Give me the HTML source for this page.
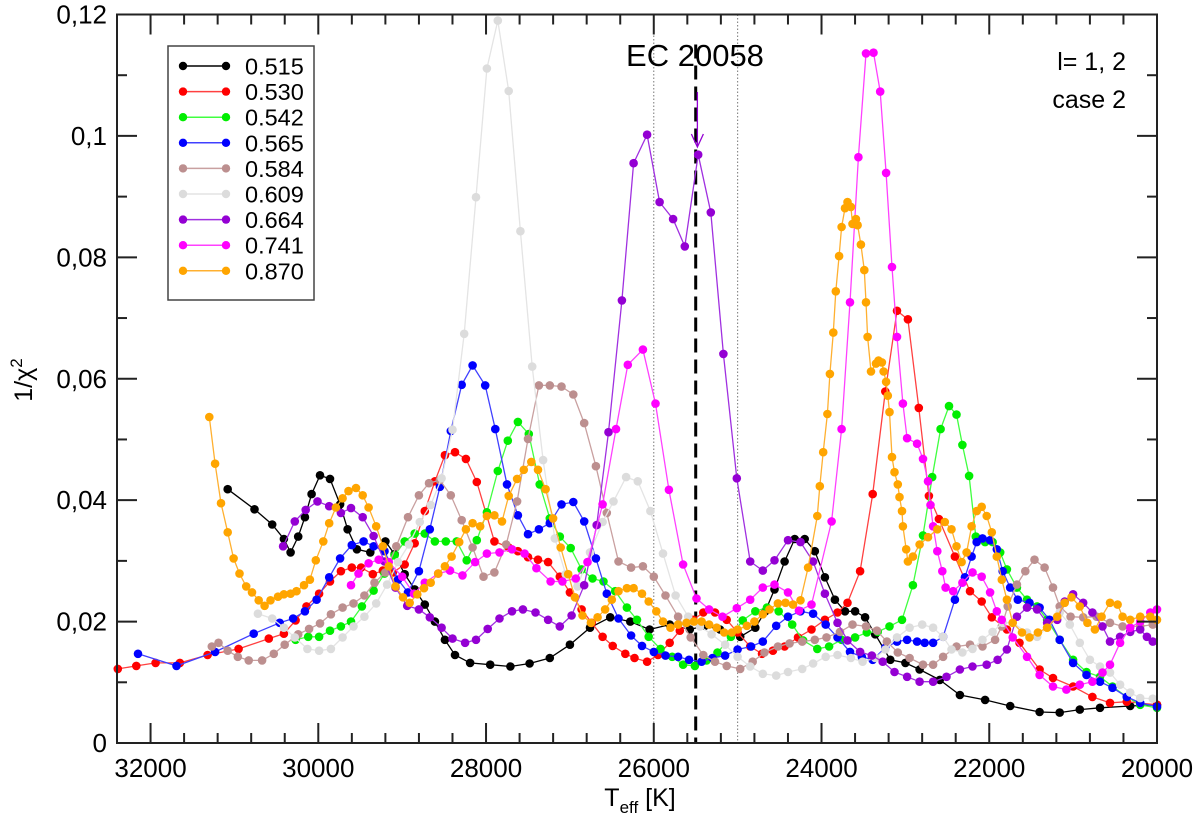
<!DOCTYPE html>
<html><head><meta charset="utf-8"><style>
html,body{margin:0;padding:0;background:#fff}
svg{display:block;font-family:"Liberation Sans",Arial,sans-serif}
</style></head><body>
<svg id="chart" width="1200" height="821" viewBox="0 0 1200 821" xmlns="http://www.w3.org/2000/svg"></svg>
<script>
const xTicks=[32000,30000,28000,26000,24000,22000,20000];
const yTicks=[0,0.02,0.04,0.06,0.08,0.1,0.12];
const yTickLabels=["0","0,02","0,04","0,06","0,08","0,1","0,12"];
const massLabels=["0.515","0.530","0.542","0.565","0.584","0.609","0.664","0.741","0.870"];
const t515=[31080,30760,30550,30410,30330,30240,30160,30080,29980,29860,29740,29650,29540,29380,29200,29090,28970,28850,28730,28610,28490,28370,28190,27950,27710,27480,27240,27000,26760,26520,26280,26050,25810,25570,25390,25210,24970,24790,24670,24560,24440,24320,24200,24080,23960,23840,23720,23600,23480,23360,23180,23000,22830,22590,22350,22050,21750,21400,21160,20920,20680,20320,20000];
const y515=[.0418,.0385,.0360,.0336,.0314,.0340,.0372,.0410,.0441,.0435,.0393,.0352,.0319,.0314,.0332,.0311,.0278,.0253,.0228,.0200,.0170,.0145,.0132,.0129,.0126,.0131,.0140,.0162,.0190,.0207,.0200,.0187,.0195,.0187,.0193,.0187,.0175,.0190,.0217,.0253,.0299,.0336,.0336,.0316,.0273,.0236,.0217,.0217,.0207,.0179,.0137,.0132,.0121,.0104,.0079,.0071,.0061,.0051,.0050,.0055,.0058,.0061,.0063];
const t530=[32390,32170,31940,31650,31320,30950,30590,30410,30270,30140,29990,29860,29730,29600,29490,29350,29230,29110,28970,28850,28730,28610,28490,28370,28240,28110,27900,27730,27620,27500,27380,27260,27120,27000,26860,26740,26610,26490,26340,26230,26080,25950,25810,25690,25530,25410,25270,25130,25000,24850,24710,24580,24440,24280,24120,23960,23810,23690,23540,23390,23240,23100,22970,22840,22720,22600,22410,22230,22090,21970,21790,21640,21400,21240,21000,20770,20560,20360,20000];
const y530=[.0122,.0127,.0132,.0132,.0145,.0155,.0172,.0180,.0202,.0225,.0246,.0266,.0283,.0289,.0289,.0278,.0284,.0281,.0294,.0329,.0382,.0431,.0474,.0479,.0468,.0430,.0332,.0322,.0316,.0306,.0302,.0298,.0274,.0248,.0220,.0198,.0175,.0160,.0147,.0140,.0134,.0145,.0165,.0185,.0203,.0215,.0215,.0203,.0182,.0159,.0147,.0152,.0159,.0174,.0187,.0203,.0215,.0231,.0283,.0410,.0579,.0712,.0698,.0552,.0407,.0369,.0307,.0250,.0233,.0207,.0187,.0165,.0121,.0107,.0093,.0076,.0066,.0068,.0063];
const t542=[30270,30120,29990,29860,29730,29610,29480,29340,29210,29090,28970,28850,28730,28610,28480,28350,28230,28110,27990,27860,27740,27620,27490,27360,27240,27120,26990,26860,26730,26600,26460,26320,26200,26060,25920,25780,25650,25510,25370,25240,25080,24940,24790,24650,24510,24350,24220,24050,23910,23760,23600,23460,23330,23190,23040,22910,22790,22680,22580,22480,22390,22320,22240,22160,22050,21960,21870,21790,21670,21550,21430,21310,21160,21000,20840,20680,20530,20360,20200,20000];
const y542=[.0170,.0175,.0175,.0185,.0192,.0200,.0225,.0251,.0279,.0309,.0332,.0345,.0345,.0332,.0332,.0332,.0301,.0334,.0380,.0448,.0498,.0529,.0509,.0426,.0370,.0340,.0321,.0286,.0271,.0266,.0250,.0223,.0203,.0175,.0155,.0142,.0129,.0127,.0136,.0149,.0175,.0202,.0217,.0223,.0217,.0195,.0169,.0155,.0159,.0170,.0174,.0182,.0183,.0192,.0203,.0260,.0342,.0438,.0517,.0555,.0541,.0491,.0440,.0340,.0331,.0331,.0314,.0286,.0256,.0236,.0225,.0203,.0170,.0137,.0117,.0109,.0093,.0076,.0063,.0058];
const t565=[32150,31690,31230,30770,30460,30300,30160,30020,29870,29740,29600,29460,29340,29210,29050,28930,28800,28670,28550,28420,28290,28160,28010,27890,27750,27620,27500,27370,27240,27100,26960,26830,26690,26560,26420,26270,26140,26000,25860,25710,25580,25430,25300,25150,25000,24840,24700,24540,24400,24250,24100,23950,23810,23660,23520,23390,23240,23100,22980,22860,22770,22670,22550,22410,22290,22210,22150,22080,21990,21910,21840,21750,21660,21520,21400,21280,21160,21000,20840,20680,20530,20360,20200,20000];
const y565=[.0147,.0127,.0150,.0180,.0198,.0205,.0217,.0236,.0273,.0304,.0326,.0332,.0324,.0316,.0269,.0248,.0283,.0352,.0422,.0514,.0590,.0622,.0589,.0517,.0426,.0375,.0344,.0352,.0362,.0393,.0397,.0365,.0304,.0246,.0205,.0177,.0160,.0150,.0144,.0142,.0137,.0134,.0140,.0144,.0154,.0159,.0167,.0193,.0208,.0217,.0213,.0195,.0174,.0150,.0142,.0137,.0157,.0167,.0170,.0167,.0165,.0165,.0175,.0236,.0273,.0307,.0331,.0337,.0334,.0319,.0283,.0256,.0236,.0231,.0223,.0203,.0170,.0132,.0112,.0101,.0091,.0076,.0066,.0060];
const t584=[31270,31190,31080,30960,30830,30670,30530,30400,30240,30110,29980,29850,29710,29580,29450,29330,29200,29070,28930,28800,28680,28550,28420,28290,28160,28030,27900,27760,27630,27500,27370,27240,27100,26960,26830,26690,26560,26420,26270,26130,26000,25860,25710,25560,25410,25270,25130,24970,24820,24680,24520,24380,24230,24080,23940,23780,23630,23470,23340,23220,23090,22950,22790,22670,22550,22390,22230,22080,21930,21850,21780,21670,21570,21460,21340,21240,21160,21030,20880,20720,20560,20410,20200,20050];
const y584=[.0159,.0165,.0152,.0142,.0136,.0136,.0147,.0162,.0179,.0188,.0197,.0212,.0223,.0230,.0243,.0264,.0281,.0324,.0372,.0408,.0428,.0433,.0408,.0367,.0322,.0274,.0281,.0327,.0398,.0501,.0589,.0589,.0587,.0574,.0527,.0456,.0379,.0299,.0289,.0291,.0274,.0243,.0208,.0174,.0145,.0134,.0127,.0122,.0134,.0149,.0159,.0164,.0167,.0170,.0174,.0183,.0195,.0192,.0185,.0167,.0149,.0140,.0129,.0129,.0142,.0159,.0162,.0159,.0170,.0192,.0225,.0261,.0283,.0302,.0289,.0256,.0225,.0208,.0207,.0208,.0198,.0192,.0192,.0195];
const t609=[30720,30550,30410,30280,30130,29990,29850,29710,29580,29450,29310,29180,29050,28920,28790,28660,28530,28400,28260,28120,27990,27860,27730,27590,27450,27320,27180,27050,26910,26760,26610,26480,26330,26190,26040,25890,25740,25590,25450,25310,25150,25000,24850,24700,24540,24400,24230,24100,23950,23810,23650,23510,23360,23240,23100,22950,22800,22670,22550,22450,22320,22200,22080,21960,21840,21720,21550,21430,21310,21160,21040,20920,20800,20680,20560,20440,20320,20200,20050];
const y609=[.0213,.0205,.0190,.0174,.0155,.0152,.0155,.0174,.0192,.0208,.0230,.0261,.0298,.0327,.0364,.0392,.0436,.0516,.0674,.0899,.1111,.1190,.1074,.0843,.0620,.0466,.0337,.0278,.0258,.0314,.0364,.0398,.0438,.0431,.0382,.0312,.0243,.0208,.0192,.0179,.0162,.0142,.0126,.0114,.0111,.0117,.0122,.0131,.0142,.0145,.0140,.0134,.0140,.0154,.0174,.0190,.0195,.0190,.0175,.0154,.0149,.0155,.0170,.0183,.0198,.0198,.0182,.0175,.0190,.0215,.0195,.0165,.0137,.0126,.0116,.0096,.0083,.0074,.0073];
const t664=[30420,30280,30150,30010,29870,29730,29610,29470,29340,29210,29080,28940,28800,28670,28530,28400,28250,28120,27980,27840,27690,27560,27410,27260,27120,26980,26830,26680,26540,26380,26240,26080,25930,25770,25630,25470,25320,25170,25010,24850,24700,24560,24400,24250,24100,23960,23810,23690,23540,23400,23270,23130,22980,22830,22670,22510,22350,22200,22030,21900,21790,21670,21550,21430,21310,21190,21100,21000,20880,20770,20650,20560,20440,20320,20200,20120,20050];
const y664=[.0324,.0365,.0384,.0398,.0390,.0379,.0387,.0372,.0341,.0299,.0256,.0226,.0220,.0207,.0190,.0172,.0165,.0170,.0188,.0205,.0217,.0220,.0215,.0203,.0192,.0210,.0260,.0359,.0512,.0729,.0955,.1002,.0891,.0863,.0818,.0969,.0874,.0641,.0436,.0299,.0284,.0301,.0334,.0331,.0299,.0246,.0198,.0169,.0150,.0144,.0134,.0117,.0109,.0101,.0101,.0109,.0121,.0126,.0129,.0137,.0154,.0208,.0223,.0220,.0198,.0203,.0233,.0245,.0231,.0215,.0192,.0167,.0175,.0183,.0187,.0175,.0167];
const t741=[29610,29520,29400,29280,29160,29000,28860,28730,28570,28430,28280,28130,27990,27840,27690,27540,27400,27230,27090,26930,26790,26610,26450,26310,26130,25980,25820,25650,25490,25340,25180,25010,24850,24700,24560,24400,24270,24120,23880,23760,23660,23560,23470,23380,23300,23230,23160,23100,23030,22980,22860,22790,22730,22700,22670,22620,22560,22520,22430,22320,22200,22090,21990,21910,21850,21720,21550,21400,21240,21080,20920,20770,20650,20560,20440,20320,20200,20080,20000];
const y741=[.0260,.0279,.0296,.0302,.0298,.0274,.0246,.0264,.0279,.0284,.0276,.0298,.0312,.0314,.0319,.0312,.0288,.0266,.0266,.0271,.0298,.0393,.0517,.0623,.0648,.0559,.0417,.0294,.0238,.0220,.0208,.0222,.0236,.0256,.0261,.0248,.0218,.0228,.0365,.0517,.0726,.0965,.1136,.1137,.1073,.0939,.0784,.0669,.0559,.0502,.0493,.0468,.0431,.0392,.0357,.0316,.0283,.0256,.0250,.0264,.0281,.0274,.0248,.0217,.0203,.0174,.0142,.0112,.0093,.0088,.0096,.0101,.0116,.0129,.0165,.0190,.0200,.0215,.0220];
const t870=[31300,31230,31160,31080,31010,30940,30860,30790,30710,30640,30570,30480,30410,30330,30260,30170,30100,30030,29940,29870,29790,29710,29640,29550,29470,29400,29310,29230,29160,29080,28990,28910,28820,28740,28660,28570,28490,28410,28320,28240,28160,28070,27990,27900,27810,27730,27630,27550,27460,27380,27290,27200,27110,27020,26940,26850,26750,26670,26580,26500,26420,26320,26240,26140,26060,25970,25890,25800,25710,25610,25520,25430,25340,25250,25160,25070,25000,24890,24800,24700,24620,24520,24430,24340,24250,24160,24050,24020,23980,23930,23900,23860,23830,23790,23760,23720,23690,23650,23630,23590,23570,23530,23490,23470,23450,23410,23350,23320,23280,23260,23230,23210,23190,23160,23130,23090,23070,23040,23030,22990,22970,22910,22830,22730,22620,22530,22450,22390,22330,22270,22210,22150,22090,22030,21970,21910,21850,21790,21720,21610,21520,21420,21310,21190,21100,21020,20920,20830,20740,20660,20560,20470,20410,20320,20200,20080,20000];
const y870=[.0537,.0460,.0395,.0347,.0304,.0279,.0258,.0248,.0235,.0226,.0235,.0241,.0245,.0246,.0250,.0260,.0269,.0301,.0332,.0362,.0388,.0403,.0415,.0420,.0408,.0388,.0357,.0324,.0291,.0258,.0240,.0231,.0245,.0255,.0264,.0279,.0291,.0307,.0331,.0352,.0362,.0357,.0374,.0375,.0365,.0407,.0435,.0450,.0463,.0450,.0418,.0370,.0322,.0278,.0240,.0210,.0198,.0207,.0220,.0236,.0250,.0255,.0255,.0246,.0233,.0217,.0200,.0190,.0195,.0198,.0200,.0200,.0195,.0190,.0182,.0182,.0187,.0193,.0200,.0212,.0220,.0230,.0231,.0228,.0235,.0289,.0374,.0423,.0479,.0542,.0608,.0676,.0744,.0802,.0850,.0881,.0891,.0883,.0855,.0863,.0853,.0821,.0779,.0726,.0669,.0612,.0625,.0630,.0627,.0612,.0595,.0572,.0545,.0471,.0446,.0426,.0405,.0382,.0357,.0319,.0299,.0307,.0327,.0339,.0352,.0364,.0352,.0324,.0298,.0314,.0357,.0382,.0389,.0374,.0347,.0307,.0269,.0236,.0198,.0182,.0174,.0182,.0190,.0208,.0231,.0240,.0225,.0198,.0187,.0208,.0231,.0228,.0208,.0203,.0208,.0208,.0203];

const seriesT=[t515,t530,t542,t565,t584,t609,t664,t741,t870];
const seriesY=[y515,y530,y542,y565,y584,y609,y664,y741,y870];
const colors=["#000000","#ff0000","#00ee00","#0000ff","#bc8f8f","#dcdcdc","#9400d3","#ff00ff","#ffa500"];
const lineColors=["#000000","#ff4040","#40ff40","#4040ff","#c9a0a0","#e4e4e4","#a030e0","#ff40ff","#ffb030"];

const NS="http://www.w3.org/2000/svg";
const svg=document.getElementById('chart');
const L=117,R=1157,T=14.5,B=743;
const xMin=32400,xMax=20000,yMin=0,yMax=0.12;
function X(v){return L+(v-xMin)/(xMax-xMin)*(R-L);}
function Y(v){return B-(v-yMin)/(yMax-yMin)*(B-T);}
function mk(tag,attrs,parent){const e=document.createElementNS(NS,tag);for(const k in attrs)e.setAttribute(k,attrs[k]);(parent||svg).appendChild(e);return e;}

const refs=mk('g',{});


[26000,25000].forEach(v=>{const l=mk('line',{x1:X(v),x2:X(v),y1:T,y2:B,stroke:'#777','stroke-width':1,'stroke-dasharray':'1.5,2'},refs);});
const dl=mk('line',{x1:X(25500),x2:X(25500),y1:T+30,y2:B,stroke:'#000','stroke-width':3,'stroke-dasharray':'14,7'},refs);



for(let s=0;s<seriesT.length;s++){
  const g=mk('g',{});
  
  
  const pts=seriesT[s].map((t,i)=>X(t).toFixed(1)+','+Y(seriesY[s][i]).toFixed(1)).join(' ');
  const pl=mk('polyline',{points:pts,fill:'none',stroke:lineColors[s],'stroke-width':1.3},g);
  
  
  seriesT[s].forEach((t,i)=>{
    const c=mk('circle',{cx:X(t).toFixed(1),cy:Y(seriesY[s][i]).toFixed(1),r:4.3,fill:colors[s]},g);
    
    
  });
}

const ar=mk('path',{d:`M${X(25480)} 92 L${X(25480)} 147 M${X(25480)-6} 134 L${X(25480)} 147 L${X(25480)+6} 134`,stroke:'#9400d3','stroke-width':1.3,fill:'none'});



const fr=mk('rect',{x:L,y:T,width:R-L,height:B-T,fill:'none',stroke:'#222','stroke-width':2});



const xa=mk('g',{});


for(let v=32400;v>=20000;v-=400){
  const major=(v%2000===0);const len=major?20:10;
  mk('line',{x1:X(v),x2:X(v),y1:B,y2:B-len,stroke:'#222','stroke-width':2},xa);
  mk('line',{x1:X(v),x2:X(v),y1:T,y2:T+len,stroke:'#222','stroke-width':2},xa);
}
xTicks.forEach(v=>{const t=mk('text',{x:X(v),y:777,'text-anchor':'middle','font-size':26,fill:'#000'},xa);t.textContent=String(v);});
const ya=mk('g',{});


for(let k=0;k<=12;k++){const v=k*0.01;const len=(k%2===0)?20:10;
  mk('line',{x1:L,x2:L+len,y1:Y(v),y2:Y(v),stroke:'#222','stroke-width':2},ya);
  mk('line',{x1:R,x2:R-len,y1:Y(v),y2:Y(v),stroke:'#222','stroke-width':2},ya);}
yTicks.forEach((v,i)=>{const t=mk('text',{x:107,y:Y(v)+9,'text-anchor':'end','font-size':26,fill:'#000'},ya);t.textContent=yTickLabels[i];});

const xt=mk('text',{x:640,y:806,'text-anchor':'middle','font-size':25,fill:'#000'});
xt.innerHTML='T<tspan font-size="17" dy="7">eff</tspan><tspan dy="-7"> [K]</tspan>';


const yt=mk('text',{x:0,y:0,transform:'translate(32,380) rotate(-90)','text-anchor':'middle','font-size':25,fill:'#000'});
yt.innerHTML='1/&#967;<tspan font-size="17" dy="-10">2</tspan>';


const st=mk('text',{x:695,y:66,'text-anchor':'middle','font-size':31,fill:'#000'});
st.textContent='EC 20058';


const a1=mk('text',{x:1126,y:70,'text-anchor':'end','font-size':25,fill:'#000'});
a1.textContent='l= 1, 2';


const a2=mk('text',{x:1126,y:108,'text-anchor':'end','font-size':25,fill:'#000'});
a2.textContent='case 2';



const lg=mk('g',{});


mk('rect',{x:168,y:46,width:146,height:254,fill:'#fff',stroke:'#444','stroke-width':1.5},lg);
massLabels.forEach((m,i)=>{
  const yy=66+i*25.6;
  const e=mk('g',{},lg);
  
  
  mk('line',{x1:183,x2:226,y1:yy,y2:yy,stroke:lineColors[i],'stroke-width':1.5},e);
  mk('circle',{cx:183,cy:yy,r:4.2,fill:colors[i]},e);
  mk('circle',{cx:226,cy:yy,r:4.2,fill:colors[i]},e);
  const t=mk('text',{x:245,y:yy+8.5,'font-size':23.5,fill:'#000'},e);t.textContent=m;
});
</script>
</body></html>
